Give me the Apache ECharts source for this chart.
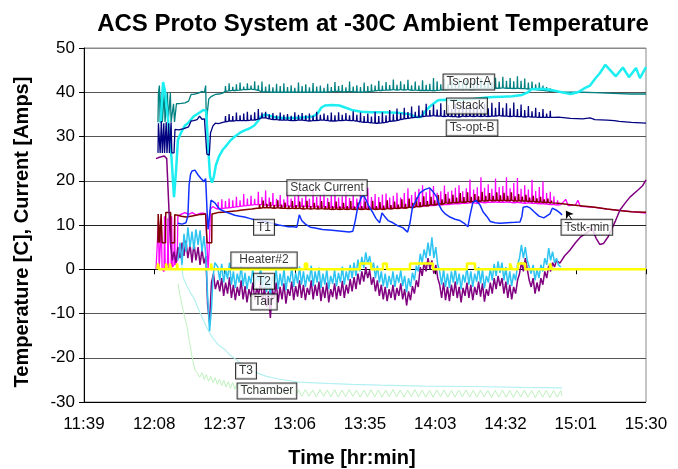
<!DOCTYPE html>
<html>
<head>
<meta charset="utf-8">
<title>ACS Proto System at -30C Ambient Temperature</title>
<script src="https://cdn.jsdelivr.net/npm/echarts@6/dist/echarts.min.js"></script>
<style>
html, body { margin: 0; padding: 0; background: #fff; }
#chart { width: 678px; height: 469px; }
</style>
</head>
<body>
<div id="chart"></div>
<script>
// x values are minutes after 11:39 (left end of the time axis)
var xTickLabels = ['11:39', '12:08', '12:37', '13:06', '13:35', '14:03', '14:32', '15:01', '15:30'];
var xStep = 28.875;   // 231 min / 8 divisions

// the spiky stretches are kept as [t, low, high] samples
var tsOptAHead = [[30.4,33.2],[30.6,39.8],[31.0,41.5],[31.3,33.3],[31.8,40],[32.2,33.3],[33.0,40],[33.3,33.3],[34.3,40],[34.6,33.3],[35.5,39.8],[35.8,33.3],[36.8,37.4],[37.2,33.3],[38.0,37.4],[40,37.5],[41.5,37.6],[43,38],[44,39.5],[45,39.5],[47,39.8],[48.5,40.2],[49.5,40],[50.0,41.5],[50.3,33.5],[50.8,33.2],[51.3,38.5],[52.2,39],[53,39.2],[54,39.5],[55.5,39.6],[57,39.8]];
var tsOptAEnv = [[58,40.2,41.4],[59.5,40.3,42],[61,40.4,41.2],[62.5,40.4,41.8],[64,40.5,42.2],[65.5,40.6,41.3],[67,40.6,42],[68.5,40.7,41.5],[70,40.6,42.5],[71.5,40.4,41.6],[73,40.1,42.4],[74.5,40.1,41.3],[76,40.1,41.8],[77.5,40,41.1],[79,40,41.9],[80.5,40,41.4],[82,40,42],[83.5,40,41.2],[85,40,41.6],[86.5,40,41],[88,40.1,42.2],[89.5,40,41.4],[91,40,41.8],[92.5,40,41.1],[94,40.1,42.1],[95.5,40,41.3],[97,40,41.5],[98.5,40,41],[100,40.1,41.9],[101.5,40.1,41.2],[103,40.2,42.3],[104.5,40.2,41.4],[106,40.1,41.7],[107.5,40.1,41.1],[109,40.2,42.4],[110.5,40.1,41.3],[112,40.1,41.6],[113.5,40,41.2],[115,40.1,42.2],[116.5,40.1,41.4],[118,40.2,41.8],[119.5,40.3,41.5],[121,40.4,42.6],[122.5,40.4,41.5],[124,40.5,42.3],[125.5,40.5,41.6],[127,40.6,42.9],[128.5,40.5,41.7],[130,40.6,42.5],[131.5,40.5,41.8],[133,40.6,42.8],[134.5,40.4,41.6],[136,40.5,42.4],[137.5,40.4,41.5],[139,40.4,42.7],[140.5,40.4,41.7],[142,40.4,41.9],[143.5,40.3,43.2],[145,40.4,42.5],[146.5,40.5,41.8],[148,40.6,43],[149.5,40.6,41.9],[151,40.7,42.6],[152.5,40.7,42],[154,40.7,43.1],[155.5,40.6,42.2],[157,40.7,42.8],[158.5,40.6,42],[160,40.6,42.4],[161.5,40.7,42.7],[163,40.8,43.2],[164.5,40.8,42.1],[166,40.9,42.6],[167.5,40.8,42.3],[169,40.9,43.3],[170.5,40.9,42.4],[172,41,43.5],[173.5,40.9,42.6],[175,40.9,43.2],[176.5,40.8,42.5],[178,40.9,43.6],[179.5,40.8,42.6],[181,40.8,43.1],[182.5,40.7,42.2],[184,40.7,42.4],[185.5,40.6,41.8],[187,40.5,42.2],[188.5,40.4,41.5],[190,40.3,41.2],[191.5,40.2,40.9],[193,40.2,40.5]];
var tsOptATail = [[194,40.2],[196,40.1],[200,40],[205,40],[210,39.9],[215,39.8],[220,39.7],[225,39.6],[231,39.6]];

var tStack = [[31.5,33],[32.5,42.3],[33.2,40.5],[34.5,34],[36.0,25],[37.0,16.3],[37.8,22],[38.6,29.2],[40,31],[41.5,32.5],[42.7,33],[45,34.5],[47.7,35.5],[49.0,36],[50.2,35.8],[51.0,28],[51.8,21],[52.6,19.6],[53.4,21],[54.2,23.5],[55.5,25.5],[57,27],[58,27.6],[60,29],[62,30],[64,30.8],[66,31.4],[68,31.8],[70,32.5],[71.5,33.5],[72.5,34.4],[74.5,35],[78,34.4],[82,34.2],[86,34.2],[90,34.3],[94,34.5],[96,35.2],[97.5,36.5],[99,37],[102,37.1],[105,37],[107,36.6],[110,36],[114,35.6],[118,35.5],[122,35.5],[126,35.4],[130,35.3],[134,35],[136.5,34.4],[138.5,34.4],[140,35.5],[142,36.7],[145.5,38.2],[148,38.3],[152,38.2],[155,38.3],[160,38.5],[163.5,38.7],[165.5,38.8],[168,38.9],[172,39],[176,39.1],[180,39.4],[182.5,40],[184,40.7],[188,40.8],[191,40.6],[194,40.3],[198,39.8],[200,39.6],[203,40],[206,41],[208,41.5],[210,43],[212,44.3],[214.3,46.2],[218.6,43.6],[221.5,45.6],[224,43.4],[226.9,45.5],[228.5,43.2],[231,45.7]];

var tsOptBHead = [[30.4,26.3],[30.6,33],[31.0,33.3],[31.3,26.3],[31.8,33.5],[32.2,26.3],[32.8,33],[33.1,26.3],[33.8,33.2],[34.1,26.3],[34.8,33],[35.1,26.3],[35.8,33.2],[36.1,26.3],[37,26.3],[37.4,31.6],[39,31.5],[41,31.8],[43,32.2],[44,33.5],[45,33.6],[46.5,33.8],[47.5,34.6],[48.5,33.9],[49.5,34],[50.2,33.8],[50.5,26],[51.5,25.8],[52,30.8],[53,32.4],[54,33],[55,32.9],[56,33],[57,33.2]];
var tsOptBEnv = [[58,33.3,34.6],[59.5,33.5,35.1],[61,33.5,34.6],[62.5,33.6,35.4],[64,33.6,34.8],[65.5,33.6,35.2],[67,33.6,35.6],[68.5,33.7,34.9],[70,33.7,35.5],[71.5,33.9,36.2],[73,34.2,35.4],[74.5,34.2,35.6],[76,34,35],[77.5,33.8,35.3],[79,33.8,34.8],[80.5,33.7,35.4],[82,33.7,34.9],[83.5,33.7,35.1],[85,33.6,34.7],[86.5,33.6,35.5],[88,33.7,34.9],[89.5,33.7,35.3],[91,33.6,34.8],[92.5,33.5,35.2],[94,33.6,34.7],[95.5,33.6,35.6],[97,33.7,34.9],[98.5,33.7,35.2],[100,33.6,34.8],[101.5,33.5,35.4],[103,33.5,34.8],[104.5,33.6,35.5],[106,33.6,34.9],[107.5,33.7,35.3],[109,33.6,34.8],[110.5,33.6,35.7],[112,33.5,34.9],[113.5,33.3,35.4],[115,33.2,34.6],[116.5,33.2,35.2],[118,33.1,34.5],[119.5,33,35.6],[121,33,34.6],[122.5,33.1,35.5],[124,33.2,34.8],[125.5,33.4,36],[127,33.5,35],[128.5,33.6,36.3],[130,33.8,35.3],[131.5,34,36.5],[133,34.1,35.5],[134.5,34.2,36.8],[136,34.3,35.6],[137.5,34.4,37],[139,34.5,35.9],[140.5,34.6,37.4],[142,34.6,36],[143.5,34.7,37.2],[145,34.6,36.1],[146.5,34.6,37.5],[148,34.5,36],[149.5,34.6,37.1],[151,34.5,36.2],[152.5,34.5,37.3],[154,34.4,36.1],[155.5,34.6,37.6],[157,34.5,36.2],[158.5,34.6,37.2],[160,34.5,36.3],[161.5,34.6,37.3],[163,34.5,36.2],[164.5,34.6,37.4],[166,34.5,36.4],[167.5,34.6,37.6],[169,34.6,36.5],[170.5,34.7,37.8],[172,34.6,36.5],[173.5,34.6,37.5],[175,34.5,36.4],[176.5,34.6,37.7],[178,34.5,36.2],[179.5,34.5,37.2],[181,34.4,36],[182.5,34.5,36.9],[184,34.4,35.7],[185.5,34.4,36.5],[187,34.3,35.5],[188.5,34.3,36.2],[190,34.3,35.2],[191.5,34.3,35.8],[193,34.3,34.6]];
var tsOptBTail = [[195,34.4],[200,34.1],[205,34.0],[208,34.2],[210,33.8],[215,33.7],[218,33.6],[220,33.4],[225,33.2],[231,33.0]];

var stackHead = [[29.6,0],[30.4,0],[30.6,11],[30.9,0],[31.6,0],[31.8,10],[32.1,0],[32.9,-0.5],[33.1,12],[33.4,0],[34.3,1],[34.5,11.5],[34.8,0],[35.8,0.5],[36.0,12],[36.3,0.5],[37.0,1],[37.2,11.5],[37.5,1],[38.3,2],[38.6,12],[39.2,12.2],[40.3,12.5],[41.5,12.8],[43,12.4],[44.5,12.8],[46,12.3],[47.5,12.6],[49,12.7],[50,12.5],[50.5,6],[51,0],[51.5,5],[52,13.6],[53,14.2],[54,13.8]];
var stackEnv = [[55,13.6,15.2],[56.5,13.7,15.8],[58,13.8,15.4],[59.5,13.9,16],[61,14,15.6],[62.5,14.1,16.4],[64,14.2,15.6],[65.5,14.3,17],[67,14.4,16],[68.5,14.5,16.6],[70,14.6,15.9],[71.5,14.6,17.5],[73,14.6,16.3],[74.5,14.5,17.8],[76,14.4,16.2],[77.5,14.5,17.2],[79,14.3,15.9],[80.5,14.3,16.8],[82,14.2,15.8],[83.5,14.3,17.4],[85,14.2,16],[86.5,14.1,16.5],[88,14.3,17.6],[89.5,14.2,16.1],[91,14.2,16.8],[92.5,14.1,15.9],[94,14.1,17.9],[95.5,14.1,16.4],[97,14,16.8],[98.5,14.1,17.3],[100,14,16.1],[101.5,14,16.6],[103,14,17.7],[104.5,13.9,16.2],[106,13.9,16.5],[107.5,13.9,17.5],[109,13.9,16.1],[110.5,13.9,16.9],[112,13.9,16],[113.5,13.8,17.6],[115,13.8,16.4],[116.5,13.8,18.4],[118,13.8,16.3],[119.5,13.8,17],[121,13.8,16.3],[122.5,13.8,16.9],[124,13.8,17.1],[125.5,13.8,16.2],[127,13.8,16.6],[128.5,13.8,17.3],[130,13.9,16.2],[131.5,13.9,17.2],[133,14,18.3],[134.5,14,16.8],[136,14.1,17.5],[137.5,14.2,18.2],[139,14.2,19],[140.5,14.3,17.4],[142,14.4,18.2],[143.5,14.4,18.8],[145,14.5,17.3],[146.5,14.5,17.6],[148,14.6,18.9],[149.5,14.6,17.5],[151,14.7,17.8],[152.5,14.8,18.4],[154,14.8,19],[155.5,14.9,17.6],[157,14.9,18.3],[158.5,15,20.3],[160,15,18],[161.5,14.9,18.5],[163,15.1,20.8],[164.5,15,18.4],[166,15.1,19.2],[167.5,15.1,18.2],[169,15.2,20.5],[170.5,15.1,18.6],[172,15.1,18.8],[173.5,15.2,20.8],[175,15.1,18.3],[176.5,15,19.5],[178,15.1,20.6],[179.5,15,18.2],[181,14.9,19],[182.5,15,18],[184,14.9,20.2],[185.5,14.9,17.7],[187,14.8,18.6],[188.5,14.8,19.8],[190,14.7,17.2],[191.5,14.6,17.5],[193,14.6,16.5],[194.5,14.5,15.6]];
var stackTail = [[196,14.6],[198,15.8],[199,14.4],[202,14.5],[203,15.6],[204,14.2],[210,14],[215,13.6],[220,13.3],[225,13],[231,12.7]];

var tstkHead = [[30.4,6],[30.5,12.5],[31.0,12.5],[31.1,6],[31.6,6],[31.7,12.5],[32.0,12.5],[32.1,6],[33.5,6],[33.6,12.8],[35.6,12.8],[35.7,6],[37.2,6],[37.3,12.3],[38.6,12.2],[40,12],[42,11.8],[44,12],[46,12.2],[48,12.4],[50,12.5],[50.5,12.3],[50.6,6],[52.5,6],[52.6,12.5],[53.5,12.6],[55,12.8],[57,12.9],[59,13],[61,13.1],[63,13.2],[65,13.4],[67,13.5],[69,13.6],[71,13.8]];
var tstkEnv = [[72,13.8,14.6],[73.5,13.9,15.5],[75,13.9,14.8],[76.5,13.9,15.2],[78,13.8,14.5],[79.5,13.9,15.6],[81,13.8,14.6],[82.5,13.8,15.1],[84,13.7,14.4],[85.5,13.8,15.4],[87,13.7,14.5],[88.5,13.8,15.3],[90,13.6,14.4],[91.5,13.7,15.5],[93,13.6,14.3],[94.5,13.7,15],[96,13.6,14.4],[97.5,13.7,15.4],[99,13.6,14.3],[100.5,13.6,15.2],[102,13.5,14.3],[103.5,13.6,15.3],[105,13.5,14.2],[106.5,13.6,15],[108,13.5,14.3],[109.5,13.6,15.4],[111,13.5,14.2],[112.5,13.6,15.1],[114,13.5,14.3],[115.5,13.6,15.3],[117,13.5,14.2],[118.5,13.6,15.5],[120,13.5,14.3],[121.5,13.6,15.2],[123,13.5,14.4],[124.5,13.7,15.6],[126,13.6,14.5],[127.5,13.8,15.3],[129,13.7,14.6],[130.5,13.9,15.8],[132,13.8,14.8],[133.5,14,16],[135,13.9,15],[136.5,14.2,16.2],[138,14.1,15.2],[139.5,14.4,16.5],[141,14.3,15.4],[142.5,14.6,16.4],[144,14.5,15.6],[145.5,14.8,16.8],[147,14.7,15.8],[148.5,15,17],[150,14.9,16],[151.5,15.1,16.8],[153,15,16.2],[154.5,15.2,17.2],[156,15.1,16.3],[157.5,15.3,17.4],[159,15.2,16.4],[160.5,15.4,17],[162,15.3,16.5],[163.5,15.5,17.5],[165,15.4,16.6],[166.5,15.6,17.2],[168,15.5,16.6],[169.5,15.6,17.4],[171,15.5,16.7],[172.5,15.6,17.3],[174,15.5,16.6],[175.5,15.6,17.4],[177,15.4,16.5],[178.5,15.5,17],[180,15.4,16.4],[181.5,15.4,16.8],[183,15.3,16.2],[184.5,15.3,16.6],[186,15.2,16],[187.5,15.2,16.4],[189,15.1,15.8],[190.5,15.1,16],[192,15,15.5]];
var tstkTail = [[195,14.9],[200,14.6],[205,14.3],[210,14],[215,13.6],[220,13.3],[225,13],[231,12.9]];

var t1 = [[38.6,10.4],[40.3,10.2],[41.9,10.5],[42.7,12],[43.2,19],[43.8,21.5],[44.4,22.2],[45.6,22.4],[46.9,21.3],[48.1,20.5],[49.3,19.8],[50.0,20.5],[50.6,13],[51,9],[51.4,11],[52.2,15.6],[53,15.8],[53.8,15],[55.1,14],[56,13.5],[58,13],[60,12.6],[62,12.2],[64,12],[66,11.8],[68,11.5],[70,11.2],[72,11],[74,10.8],[76,10.6],[78,10.3],[80,10],[82,9.8],[84,9.6],[86,9.6],[87.5,9.5],[88.5,12.3],[89.5,11],[91,10.2],[93,9.5],[95,9.3],[98,9],[102,8.8],[106,8.6],[109,8.4],[110.5,8.6],[111.5,11],[112.5,14],[114,16.3],[115,16.7],[116,15.6],[117,14.3],[118.5,13],[120,11.5],[121.5,10.5],[122.5,12.7],[123.5,12],[125,11],[127,10.5],[129,9.8],[131,9.4],[133,8.4],[134,10.5],[135,14],[136.5,15.5],[138,17.2],[140,18],[142,18.4],[143.5,17.5],[145,16.3],[146,14.5],[147,13.4],[148.5,12.5],[150.4,11.8],[152.5,11.3],[154.5,11],[156.5,10.3],[157.8,9.6],[158.6,12],[159.8,15],[161,15.6],[162.8,14.5],[164,13],[165.5,12],[167,10.8],[169,10.5],[171,10.4],[174,10.5],[177,10.6],[179.2,10.7],[180,12],[180.5,14],[182,14.2],[183.5,13.8],[185,13],[187,12],[189,11.6],[191.5,12.5],[192.5,13.8],[194,13.4],[195.5,12.8],[196.5,12.3]];

// heater on/off, drawn as a step line
var heater2 = [[30.2,0],[30.4,1.3],[30.8,0],[33.7,1.3],[34.1,0],[35.3,1.3],[35.8,0],[38.2,1.3],[38.6,0],[52.2,1.3],[52.6,0],[90.8,1.3],[91.7,0],[113.4,1.3],[118,0],[122.9,1.3],[124.5,0],[134,1.3],[143.4,0],[157.4,1.3],[160.7,0],[175.1,1.3],[175.9,0],[178.4,1.3],[181.3,0],[191.5,1.3],[192.3,0],[231,0]];

var t2 = [[38.6,2],[39.5,6],[40.3,1],[41.1,8],[41.9,4],[42.7,9.5],[43.6,5],[44.4,8.5],[45.2,4.5],[46,9],[46.9,5.5],[47.7,8.8],[48.5,4],[49.3,7.5],[50.1,3],[50.8,-6],[51.6,-14],[52.4,-9],[53.0,-2],[53.8,1.5],
  [55,0.5],[55.8,-2.5],[56.6,1.2],[57.4,-3],[58.2,0],[59,-2.2],[59.8,1.5],[60.6,-3.5],[61.4,-0.5],[62.2,-4.2],[63,-1],[63.8,-3],[64.6,0.8],[65.4,-3.8],[66.2,-0.8],[67,-4.5],[67.8,-1.5],[68.6,-3.2],[69.4,0.2],[70.2,-4],[71,-1.2],[71.8,-2.8],[72.6,0.4],[73.4,-4.2],[74.2,-1],[75,-5.2],[75.8,-2],[76.6,-6],[77.4,-1.5],[78.2,-3.5],[79,0],[79.8,-4.5],[80.6,-1],[81.4,-3.8],[82.2,0.2],[83,-4.8],[83.8,-1.5],[84.6,-3],[85.4,0.5],[86.2,-4],[87,-0.8],[87.8,-3.2],[88.6,0.6],[89.4,-3.5],[90.2,-0.5],[91,-4],[91.8,-1.2],[92.6,-2.8],[93.4,0.8],[94.2,-3.8],[95,-0.5],[95.8,-3],[96.6,0.4],[97.4,-4.2],[98.2,-1],[99,-3.5],[99.8,0],[100.6,-4.5],[101.4,-1.5],[102.2,-3.3],[103,-0.2],[103.8,-3.8],[104.6,-0.8],[105.4,-3],[106.2,0.6],[107,-3.5],[107.8,-0.5],[108.6,-2.5],[109.4,1],[110.2,-2],[111,1.5],[111.8,-1.5],[112.6,2.2],[113.4,-0.5],[114.2,2.8],[115,0.3],[115.8,3.8],[116.6,1.2],[117.4,3],[118.2,0],[119,1.5],[119.8,-2],[120.6,0.8],[121.4,-3],[122.2,-0.5],[123,-3.8],[123.8,-1],[124.6,-4.2],[125.4,-1.5],[126.2,-3.5],[127,-0.5],[127.8,-4],[128.6,-1.2],[129.4,-3],[130.2,-0.2],[131,-3.8],[131.8,-1.5],[132.6,-5.2],[133.4,-2],[134.2,-4],[135,-0.8],[135.8,-2.5],[136.6,0.8],[137.4,-0.5],[138.2,3.5],[139,1.5],[139.8,4.5],[140.6,2.5],[141.4,6],[142.2,3],[143,7.2],[143.8,2.5],[144.6,5],[145.4,1],[146.2,-0.5],[147,-3.5],[147.8,0],[148.6,-4],[149.4,-1],[150.2,-4.2],[151,-0.5],[151.8,-3],[152.6,0.2],[153.4,-3.5],[154.2,-1],[155,-4.5],[155.8,-1.2],[156.6,-3],[157.4,0.5],[158.2,-3.5],[159,-0.5],[159.8,-4],[160.6,-1],[161.4,-2.8],[162.2,0.5],[163,-3.2],[163.8,-0.2],[164.6,-4.3],[165.4,-1.5],[166.2,-3],[167,0.2],[167.8,-2.5],[168.6,1.2],[169.4,-1.5],[170.2,1.8],[171,-0.8],[171.8,1.5],[172.6,-2.5],[173.4,0.5],[174.2,-3.5],[175,-0.5],[175.8,-3.8],[176.6,-1],[177.4,-2.5],[178.2,1],[179,2.5],[179.8,5.5],[180.6,2.5],[181.4,5],[182.2,2],[183,0.5],[183.8,-1],[184.6,1],[185.4,-2.5],[186.2,0],[187,-2],[187.8,1],[188.6,-0.5],[189.4,2.5],[190.2,1],[191,4.8],[191.8,2],[192.6,4],[193.4,1.5],[194.2,2.5],[195,1],[196,0.5]];

var tAir = [[29.6,25],[31,25.3],[33,25.6],[34,25],[34.8,15],[35.5,6],[36.3,2],[37,4],[37.8,1.5],[38.6,5],[39.5,2.5],[40.3,6],[41.1,3],[41.9,6.5],[42.7,2.5],[43.6,5.5],[44.4,1.5],[45.2,6],[46,2],[46.9,5],[47.7,1],[48.5,4.5],[49.3,1.3],[50.1,3],[50.8,-8],[51.6,-12],[52.4,-3],[53.2,-1],[54,-4.5],
  [55,-2.5],[55.8,-5],[56.6,-2],[57.4,-6],[58.2,-3],[59,-5.5],[59.8,-1.8],[60.6,-6.5],[61.4,-3.5],[62.2,-7],[63,-4],[63.8,-6],[64.6,-2.5],[65.4,-6.8],[66.2,-3.8],[67,-7.5],[67.8,-4.5],[68.6,-6.2],[69.4,-3],[70.2,-7],[71,-4.2],[71.8,-5.8],[72.6,-2.8],[73.4,-7.2],[74.2,-4],[75,-8.5],[75.8,-5],[76.6,-11],[77.4,-4.5],[78.2,-6.5],[79,-3],[79.8,-7.5],[80.6,-4],[81.4,-6.8],[82.2,-3.2],[83,-7.8],[83.8,-4.5],[84.6,-6],[85.4,-2.8],[86.2,-7],[87,-3.8],[87.8,-6.2],[88.6,-2.5],[89.4,-6.5],[90.2,-3.5],[91,-7],[91.8,-4.2],[92.6,-5.8],[93.4,-2.5],[94.2,-6.8],[95,-3.5],[95.8,-6],[96.6,-2.8],[97.4,-7.2],[98.2,-4],[99,-6.5],[99.8,-3],[100.6,-7.5],[101.4,-4.5],[102.2,-6.3],[103,-3.2],[103.8,-6.8],[104.6,-3.8],[105.4,-6],[106.2,-2.6],[107,-6.5],[107.8,-3.5],[108.6,-5.5],[109.4,-2.2],[110.2,-5],[111,-1.8],[111.8,-4.5],[112.6,-1],[113.4,-3.5],[114.2,-0.5],[115,-2.8],[115.8,0.5],[116.6,-2],[117.4,-0.2],[118.2,-3.5],[119,-1.8],[119.8,-5],[120.6,-2.5],[121.4,-6],[122.2,-3.5],[123,-6.8],[123.8,-4],[124.6,-7.2],[125.4,-4.5],[126.2,-6.5],[127,-3.5],[127.8,-7],[128.6,-4.2],[129.4,-6],[130.2,-3.2],[131,-6.8],[131.8,-4.5],[132.6,-8.2],[133.4,-5],[134.2,-7],[135,-3.8],[135.8,-5.5],[136.6,-2.5],[137.4,-4],[138.2,0.5],[139,-1.5],[139.8,1.5],[140.6,-0.5],[141.4,2.5],[142.2,0],[143,2],[143.8,-1],[144.6,1],[145.4,-2],[146.2,-3.5],[147,-6.5],[147.8,-3],[148.6,-7],[149.4,-4],[150.2,-7.2],[151,-3.5],[151.8,-6],[152.6,-2.8],[153.4,-6.5],[154.2,-4],[155,-7.5],[155.8,-4.2],[156.6,-6],[157.4,-3],[158.2,-6.5],[159,-3.5],[159.8,-7],[160.6,-4],[161.4,-5.8],[162.2,-2.8],[163,-6.2],[163.8,-3.2],[164.6,-7.3],[165.4,-4.5],[166.2,-6],[167,-3],[167.8,-5.5],[168.6,-2],[169.4,-4.5],[170.2,-1.5],[171,-3.8],[171.8,-2],[172.6,-5.5],[173.4,-2.8],[174.2,-6.5],[175,-3.5],[175.8,-6.8],[176.6,-4],[177.4,-5.5],[178.2,-2.5],[179,-1],[179.8,1.5],[180.6,-0.5],[181.4,2.5],[182.2,0],[183,-2.5],[183.8,-4],[184.6,-2],[185.4,-5.5],[186.2,-3],[187,-5],[187.8,-2],[188.6,-3.5],[189.4,-0.5],[190.2,-2],[191,0.8],[191.8,-0.5],[192.6,1.5],[193.4,0.5],[194.2,2],[195.6,1.4],[197.5,3],[199.7,4.3],[202,6],[203.9,7.2],[207,8.4],[208.8,9.3],[210.5,7],[212,5.6],[213.5,5.8],[215.5,7.4],[218.5,11],[220.3,13.4],[222.5,15],[224.4,16.3],[227.7,17.9],[229.5,18.8],[231,20.2]];

var t3 = [[39.5,5],[40.7,-1.8],[42.5,-4],[44,-5.5],[45.6,-7],[47,-9],[48.5,-10.8],[50.5,-13.2],[52.6,-15.3],[55,-17],[58,-18.2],[60,-19.4],[62,-20.2],[66,-22],[70,-23.2],[75,-24.2],[80,-24.8],[88,-25.5],[100,-25.8],[110,-26],[121.7,-26.2],[140,-26.4],[160,-26.5],[180,-26.7],[196.5,-26.8]];

var tChamber = [[38.6,-3.3],[39.5,-6],[40.7,-9.2],[41.5,-11],[42.3,-13],[43.4,-16.5],[44.4,-19.8],[45.6,-22.8],[46.6,-23.5],[47.6,-24.4],[48.5,-23.4],[49.4,-24.9],[50.3,-23.8],[51.2,-25.3],[52.1,-24.2],[53,-25.6],[53.9,-24.5],[54.8,-26],[55.7,-24.8],[56.6,-26.3],[57.5,-25.1],[58.4,-26.6],[59.3,-25.4],[60.2,-26.9],[61.1,-25.6],[62,-27.1],[62.9,-25.8],[63.8,-27.3],[64.7,-26],[65.6,-27.5],[66.5,-26.1],[67.4,-27.6],[68.3,-26.3],[69.2,-27.8],[70.1,-26.4],[71,-27.9],[71.9,-26.5],[72.8,-28],[73.7,-26.6],[74.6,-28.1],[75.5,-26.7],[76.4,-28.2],[77.3,-26.8],[78.2,-28.3],[79.1,-26.9],[80,-28.4],[80.9,-27],[81.8,-28.4],[82.7,-27],[83.6,-28.5],[84.5,-27.1],[85.4,-28.5],[86.3,-27.1],[87.2,-28.6],[88.1,-27.2],
  [89.5,-28.7],[91,-27.2],[92.5,-28.7],[94,-27.3],[95.5,-28.8],[97,-27.2],[98.5,-28.7],[100,-27.3],[101.5,-28.8],[103,-27.2],[104.5,-28.9],[106,-27.3],[107.5,-28.8],[109,-27.2],[110.5,-28.7],[112,-27.3],[113.5,-28.9],[115,-27.3],[116.5,-28.8],[118,-27.2],[119.5,-28.8],[121,-27.3],[122.5,-28.9],[124,-27.3],[125.5,-28.8],[127,-27.2],[128.5,-28.8],[130,-27.3],[131.5,-28.9],[133,-27.3],[134.5,-28.8],[136,-27.2],[137.5,-28.8],[139,-27.3],[140.5,-28.9],[142,-27.4],[143.5,-28.9],[145,-27.3],[146.5,-28.8],[148,-27.3],[149.5,-28.9],[151,-27.4],[152.5,-28.9],[154,-27.3],[155.5,-28.8],[157,-27.3],[158.5,-28.9],[160,-27.4],[161.5,-28.9],[163,-27.3],[164.5,-28.8],[166,-27.4],[167.5,-29],[169,-27.4],[170.5,-28.9],[172,-27.3],[173.5,-28.9],[175,-27.4],[176.5,-29],[178,-27.4],[179.5,-28.9],[181,-27.3],[182.5,-28.9],[184,-27.4],[185.5,-29],[187,-27.4],[188.5,-28.9],[190,-27.4],[191.5,-29],[193,-27.4],[194.5,-28.9],[196,-27.4],[196.5,-28.6]];

var font = 'Liberation Sans, Arial, sans-serif';

// each [t, low, high] sample becomes a thin vertical spike from low to high
function spikes(head, env, tail) {
  var out = head.slice();
  env.forEach(function (r) {
    out.push([r[0], r[1]]);
    out.push([r[0] + 0.15, r[2]]);
    out.push([r[0] + 0.3, r[1]]);
  });
  return out.concat(tail);
}

function lineSeries(name, data, color, width, extra) {
  var s = {
    name: name,
    type: 'line',
    data: data,
    symbol: 'none',
    silent: true,
    lineStyle: { color: color, width: width },
    itemStyle: { color: color }
  };
  for (var k in extra) s[k] = extra[k];
  return s;
}

// text boxes sitting next to the curves (anchored in data units)
var boxLabels = [
  { name: 'Ts-opt-A', value: [158.2, 42.3] },
  { name: 'Tstack', value: [157.4, 36.9] },
  { name: 'Ts-opt-B', value: [159.5, 31.9] },
  { name: 'Stack Current', value: [99.9, 18.4] },
  { name: 'T1', value: [74, 9.5] },
  { name: 'Heater#2', value: [74, 2.1], label: { padding: [2, 8, 1, 8] } },
  { name: 'T2', value: [74, -2.7] },
  { name: 'Tair', value: [74, -7.4] },
  { name: 'T3', value: [66.6, -23] },
  { name: 'Tchamber', value: [75.2, -27.5] },
  { name: 'Tstk-min', value: [206.7, 9.5] }
];

var chart = echarts.init(document.getElementById('chart'));

chart.setOption({
  animation: false,
  backgroundColor: '#fff',
  textStyle: { fontFamily: font },
  title: {
    text: 'ACS Proto System at -30C Ambient Temperature',
    left: 368,
    textAlign: 'center',
    top: 7,
    textStyle: { fontFamily: font, fontSize: 24, fontWeight: 'bold', color: '#000' }
  },
  grid: {
    left: 84, right: 32, top: 48, bottom: 67,
    outerBoundsMode: 'none',
    show: true, borderColor: '#888', borderWidth: 1
  },
  xAxis: {
    type: 'value',
    min: 0,
    max: 231,
    interval: xStep,
    name: 'Time [hr:min]',
    nameLocation: 'middle',
    nameGap: 46,
    nameTextStyle: { fontFamily: font, fontSize: 20, fontWeight: 'bold', color: '#000', padding: [0, 26, 0, 0] },
    axisLine: { lineStyle: { color: '#000', width: 1 } },
    axisTick: { show: true, length: 5, lineStyle: { color: '#000' } },
    axisLabel: {
      margin: 14,
      fontSize: 17,
      color: '#000',
      fontFamily: font,
      formatter: function (v) { return xTickLabels[Math.round(v / xStep)]; }
    },
    splitLine: { show: false }
  },
  yAxis: {
    type: 'value',
    min: -30,
    max: 50,
    interval: 10,
    name: 'Temperature [C], Current [Amps]',
    nameLocation: 'middle',
    nameGap: 52,
    nameTextStyle: { fontFamily: font, fontSize: 20, fontWeight: 'bold', color: '#000', padding: [0, 14, 0, 0] },
    axisLine: { show: true, lineStyle: { color: '#000', width: 1 } },
    axisTick: { show: true, length: 5, lineStyle: { color: '#000' } },
    axisLabel: { margin: 9, fontSize: 17, color: '#000', fontFamily: font },
    splitLine: {
      show: true,
      lineStyle: { color: ['#000', '#555', '#555', '#000', '#222', '#555', '#555', '#555', '#888'], width: 1 }
    }
  },
  series: [
    lineSeries('T3', t3, '#B5F0F2', 1.2),
    lineSeries('Tchamber', tChamber, '#BFF2BF', 1),
    lineSeries('Ts-opt-A', spikes(tsOptAHead, tsOptAEnv, tsOptATail), '#008080', 1.3),
    lineSeries('Tstack', tStack, '#1CEEF2', 2.5),
    lineSeries('Ts-opt-B', spikes(tsOptBHead, tsOptBEnv, tsOptBTail), '#000080', 1.3),
    lineSeries('Stack Current', spikes(stackHead, stackEnv, stackTail), '#FF00FF', 1.3),
    lineSeries('Tstk-min', spikes(tstkHead, tstkEnv, tstkTail), '#800000', 1.5),
    lineSeries('T1', t1, '#1030FF', 1.5),
    lineSeries('Tair', tAir, '#800080', 1.5),
    lineSeries('T2', t2, '#2EC4F2', 1.5),
    lineSeries('Heater#2', heater2, '#FFFF00', 2.5, { step: 'end' }),
    {
      name: 'labels',
      type: 'scatter',
      silent: true,
      z: 10,
      symbolSize: 1,
      itemStyle: { color: 'rgba(0,0,0,0)' },
      label: {
        show: true,
        position: 'inside',
        formatter: '{b}',
        fontFamily: font,
        fontSize: 12,
        color: '#000',
        backgroundColor: '#fff',
        borderColor: '#000',
        borderWidth: 1,
        padding: [2, 3, 1, 3]
      },
      data: boxLabels,
      markLine: {
        silent: true,
        symbol: ['none', 'arrow'],
        symbolSize: 7,
        label: { show: false },
        lineStyle: { color: '#000', width: 1, type: 'solid' },
        data: [[{ coord: [200.9, 10.9] }, { coord: [198.1, 13.2] }]]
      }
    }
  ]
});
</script>
</body>
</html>
